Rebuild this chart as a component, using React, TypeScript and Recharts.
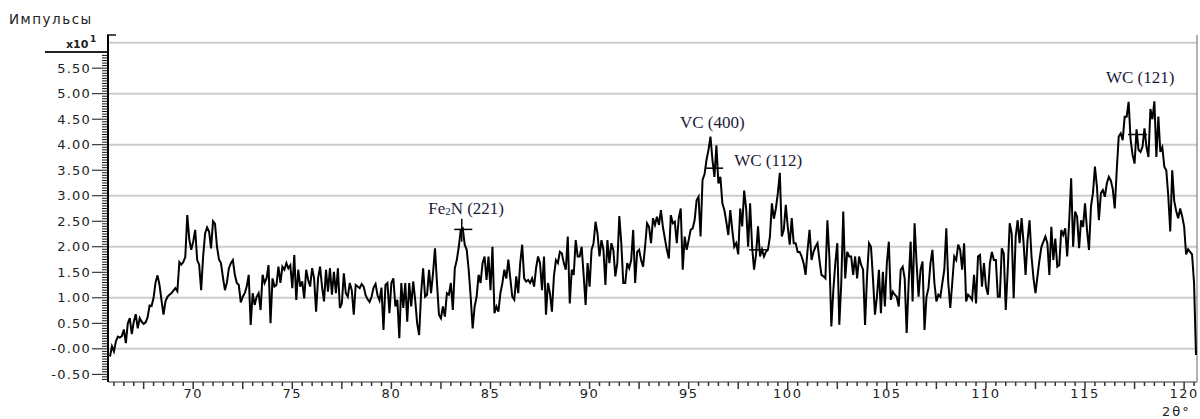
import { LineChart, Line, XAxis, YAxis, ReferenceLine, ReferenceDot } from "recharts";

// intensity (x10 counts), sampled every 0.1 deg 2-theta; each segment has its own start angle
const seg1 = [-0.15, 0.05, -0.05, 0.15, 0.24, 0.22, 0.25, 0.38, 0.11, 0.5, 0.6, 0.29, 0.53, 0.68, 0.4, 0.6, 0.53, 0.49, 0.52, 0.62, 0.85, 0.84, 1.0, 1.3, 1.44, 1.25, 0.95, 0.67, 0.93, 1.02, 1.06, 1.09, 1.14, 1.19, 1.13, 1.7, 1.65, 1.7, 1.8, 2.62, 2.15, 1.94, 2.1, 2.33, 1.74, 1.65, 1.15, 1.81, 2.26, 2.38, 2.3, 1.97, 2.5, 2.45, 2.0, 1.75, 1.68, 1.4, 1.15, 1.3, 1.58, 1.68, 1.74];
const seg2 = [1.45, 1.29, 1.25, 0.91, 1.02, 1.09, 1.22, 1.45, 0.47, 1.09, 0.86, 1.02, 1.09, 0.76, 1.45, 1.29, 1.38, 1.64, 0.5, 1.38, 1.22, 1.25, 1.61, 1.29, 1.61, 1.55, 1.68, 1.58, 1.64, 1.19, 1.84, 0.96, 1.55, 1.22, 1.32, 0.99, 1.55, 1.35, 1.22, 1.58, 1.38, 0.73, 1.38, 1.61, 1.22, 0.93, 1.55, 1.12, 1.58, 1.06, 1.51, 1.09, 1.58, 0.8, 0.89, 1.48, 1.09, 1.02, 1.29, 1.15, 0.67, 1.25, 1.22, 1.19];
const seg3 = [1.27, 1.22, 1.05, 0.97, 0.92, 1.02, 1.2, 1.27, 1.05, 0.95, 1.2, 0.37, 1.25, 1.29, 0.7, 1.29, 1.38, 0.83, 0.96, 0.21, 1.29, 0.8, 1.29, 0.53, 1.29, 0.83, 1.32, 0.96, 0.5, 0.27, 1.09, 1.58, 1.02, 1.06, 1.55, 1.09, 1.48, 1.97, 1.29, 0.67, 0.6, 0.83, 0.63, 1.09, 1.06, 1.29, 0.76, 1.58, 1.74, 2.0, 2.33, 2.36, 2.04, 1.94, 1.55, 1.02, 0.4, 0.83, 1.02, 1.45, 1.29, 1.68, 1.81];
const seg4 = [1.35, 1.81, 1.15, 2.0, 0.7, 0.83, 0.73, 1.09, 1.29, 1.55, 1.38, 1.75, 1.38, 1.02, 0.96, 1.42, 1.09, 1.68, 2.04, 1.38, 1.32, 1.35, 1.29, 1.38, 1.22, 1.58, 1.81, 1.68, 1.15, 1.81, 0.67, 1.29, 1.09, 0.73, 1.42, 1.74, 1.68, 1.9, 1.87, 1.68, 1.55, 2.2, 0.89, 1.55, 1.45, 2.13, 1.81, 1.81, 2.0, 1.45, 0.86, 1.68, 1.22, 1.94, 2.07, 2.49, 2.26, 1.81, 2.13, 1.94, 1.25, 2.13, 1.68];
const seg5 = [2.07, 1.94, 1.42, 1.68, 2.6, 2.07, 1.29, 1.29, 1.68, 1.58, 1.74, 2.33, 1.29, 1.9, 1.94, 1.74, 1.61, 2.0, 2.46, 2.39, 2.07, 2.56, 2.43, 2.59, 2.43, 2.72, 2.39, 2.16, 1.94, 1.77, 2.62, 2.46, 2.49, 2.07, 2.56, 2.75, 1.55, 2.2, 1.94, 2.13, 2.33, 2.36, 2.52, 2.91, 2.98, 2.2, 3.31, 3.42, 3.7, 3.9, 4.16, 3.7, 3.37, 3.99, 3.24, 3.37, 2.85, 2.72, 2.49, 2.23, 2.72, 2.33, 2.0];
const seg6 = [2.07, 1.85, 2.75, 2.4, 3.1, 2.75, 2.0, 2.85, 2.0, 1.55, 1.85, 2.4, 1.81, 1.95, 1.81, 1.9, 1.94, 2.2, 2.85, 2.55, 2.75, 3.05, 3.45, 2.2, 2.33, 2.82, 2.39, 2.04, 2.56, 2.07, 2.07, 1.9, 1.9, 1.81, 1.68, 1.45, 1.94, 2.33, 1.74, 1.9, 2.0, 2.07, 1.74, 1.45, 1.42, 1.38, 2.52, 1.8, 0.44, 1.15, 1.68, 2.07, 0.47, 1.29, 2.69, 1.38, 1.9, 1.81, 1.81, 1.45, 1.81, 1.38, 1.81];
const seg7 = [1.65, 1.55, 0.47, 1.42, 2.07, 2.0, 1.38, 0.67, 1.02, 1.55, 0.7, 1.51, 0.83, 1.68, 2.1, 0.96, 1.12, 1.06, 1.02, 0.83, 1.55, 1.61, 1.38, 0.31, 1.29, 2.1, 0.93, 2.46, 1.68, 1.02, 1.55, 1.71, 0.37, 1.02, 1.19, 1.68, 1.94, 1.29, 0.93, 1.06, 1.02, 1.29, 1.55, 2.36, 1.29, 0.8, 1.29, 1.81, 1.74, 2.04, 1.94, 1.55, 2.07, 0.93, 1.06, 1.02, 0.96, 1.45, 0.89, 1.81, 1.84, 1.22, 1.68];
const seg8 = [1.22, 1.06, 1.68, 1.9, 1.74, 1.74, 1.02, 1.02, 1.97, 1.87, 0.76, 1.55, 2.46, 2.26, 0.99, 2.2, 2.52, 2.07, 2.56, 2.07, 1.45, 2.13, 2.52, 1.81, 1.38, 1.09, 1.42, 1.74, 2.0, 2.1, 2.2, 2.07, 1.45, 2.39, 1.74, 2.16, 1.61, 1.64, 2.33, 2.23, 2.36, 1.81, 2.49, 3.34, 2.0, 2.69, 2.59, 1.97, 2.52, 2.39, 2.85, 2.33, 1.94, 2.79, 3.05, 3.57, 3.18, 2.52, 3.05, 3.11, 2.98, 3.24, 3.37];
const seg9 = [3.3, 3.13, 2.75, 3.5, 4.16, 4.22, 4.09, 4.55, 4.55, 4.84, 4.1, 3.8, 3.63, 4.3, 3.9, 3.86, 3.96, 4.32, 3.96, 3.76, 4.7, 4.5, 4.85, 3.76, 4.55, 3.86, 3.95, 3.57, 3.5, 3.0, 2.3, 3.5, 2.9, 2.7, 2.56, 2.75, 2.6, 2.4, 1.85, 1.95, 1.9, 1.85, 1.3, -0.12];

const segStarts = [65.8, 72.1, 78.5, 84.8, 91.1, 97.4, 103.7, 110.0, 116.3];
const segments = [seg1, seg2, seg3, seg4, seg5, seg6, seg7, seg8, seg9];

const yMajor = [-0.5, 0, 0.5, 1, 1.5, 2, 2.5, 3, 3.5, 4, 4.5, 5, 5.5];
const yLabels = ["-0.50", "-0.00", "0.50", "1.00", "1.50", "2.00", "2.50", "3.00", "3.50", "4.00", "4.50", "5.00", "5.50"];
const xLabels = [70, 75, 80, 85, 90, 95, 100, 105, 110, 115, 120];
const gridValues = [0, 1, 2, 3, 4, 5, 6];

const peakLabels = [
  { x: 83.77, y: 2.64, pre: "Fe", sub: "2", post: "N (221)" },
  { x: 96.19, y: 4.32, pre: "VC (400)", sub: "", post: "" },
  { x: 99.01, y: 3.58, pre: "WC (112)", sub: "", post: "" },
  { x: 117.78, y: 5.21, pre: "WC (121)", sub: "", post: "" },
];
const peakMarks = [
  { x1: 83.17, x2: 84.08, y: 2.34 },
  { x1: 95.83, x2: 96.74, y: 3.54 },
  { x1: 98.05, x2: 98.96, y: 1.94 },
  { x1: 117.17, x2: 118.13, y: 4.2 },
];

const X_DOMAIN: [number, number] = [65.7, 120.65];
const Y_DOMAIN: [number, number] = [-0.65, 6.15];

const data = segments.flatMap((s, j) =>
  s.map((v, i) => ({ x: Math.round((segStarts[j] + i * 0.1) * 100) / 100, y: v }))
);

const xTicks: number[] = [];
for (let k = 132; k <= 241; k++) xTicks.push(k / 2);
const yTicks: number[] = [];
for (let k = -12; k <= 115; k++) yTicks.push(k / 20);

const axisFont = "DejaVu Sans, sans-serif";

function YTick(props: any) {
  const { x, y, payload } = props;
  const idx = yMajor.findIndex((m) => Math.abs(m - payload.value) < 1e-6);
  const major = idx >= 0;
  const len = major ? 16 : 6;
  return (
    <g>
      <line x1={x - len} x2={x} y1={y} y2={y} stroke="#111" strokeWidth={1} />
      {major && (
        <text x={x - 17} y={y} dy={4.5} textAnchor="end" fontFamily={axisFont} fontSize={13} letterSpacing={1.2} fill="#222">
          {yLabels[idx]}
        </text>
      )}
    </g>
  );
}

function XTick(props: any) {
  const { x, y, payload } = props;
  const v = payload.value;
  const half = Math.round(v * 2);
  const mid = half % 5 === 0;
  const label = xLabels.includes(v);
  return (
    <g>
      <line x1={x} x2={x} y1={y} y2={y + (mid ? 7 : 4)} stroke="#333" strokeWidth={1.5} />
      {label && (
        <text x={x} y={y + 16} textAnchor="middle" fontFamily={axisFont} fontSize={13} letterSpacing={1.5} fill="#222">
          {v}
        </text>
      )}
    </g>
  );
}

function PeakText(p: any) {
  const l = p.item;
  return (
    <text x={p.cx} y={p.cy} textAnchor="middle" fontFamily="Liberation Serif, serif" fontSize={17} fill="#1b1b3a">
      {l.pre}
      {l.sub && (
        <tspan fontSize={11} dy={1}>
          {l.sub}
        </tspan>
      )}
      {l.post && <tspan dy={l.sub ? -1 : 0}>{l.post}</tspan>}
    </text>
  );
}

export default function App() {
  return (
    <div style={{ position: "absolute", left: 0, top: 0, width: 1200, height: 419, background: "#fff" }}>
      <LineChart width={1200} height={419} data={data} margin={{ top: 35, right: 3, bottom: 0, left: 8 }}>
        {gridValues.map((g) => (
          <ReferenceLine key={"g" + g} y={g} stroke="#cccccc" strokeWidth={2} />
        ))}
        <ReferenceLine x={X_DOMAIN[1]} stroke="#666" strokeWidth={1} />
        <XAxis
          type="number"
          dataKey="x"
          domain={X_DOMAIN}
          ticks={xTicks}
          interval={0}
          tick={(p: any) => <XTick {...p} />}
          tickLine={false}
          tickSize={0}
          tickMargin={0}
          axisLine={{ stroke: "#999", strokeWidth: 2 }}
          height={37}
          allowDataOverflow
        />
        <YAxis
          type="number"
          domain={Y_DOMAIN}
          ticks={yTicks}
          interval={0}
          tick={(p: any) => <YTick {...p} />}
          tickLine={false}
          tickSize={0}
          tickMargin={0}
          axisLine={{ stroke: "#000", strokeWidth: 2 }}
          width={100}
          allowDataOverflow
        />
        <Line type="linear" dataKey="y" stroke="#000" strokeWidth={2} dot={false} isAnimationActive={false} />
        {peakMarks.map((m, i) => (
          <ReferenceLine
            key={"m" + i}
            segment={[{ x: m.x1, y: m.y }, { x: m.x2, y: m.y }]}
            stroke="#000"
            strokeWidth={1.5}
          />
        ))}
        <ReferenceLine segment={[{ x: 83.55, y: 2.1 }, { x: 83.55, y: 2.55 }]} stroke="#000" strokeWidth={1.5} />
        {peakLabels.map((l, i) => (
          <ReferenceDot key={"l" + i} x={l.x} y={l.y} r={0} shape={(p: any) => <PeakText {...p} item={l} />} />
        ))}
      </LineChart>
      <svg width={1200} height={419} style={{ position: "absolute", left: 0, top: 0, pointerEvents: "none" }}>
        <text x={9} y={24} fontFamily={axisFont} fontSize={13.5} letterSpacing={1.5} fill="#222">
          Импульсы
        </text>
        <text x={66} y={48} fontFamily={axisFont} fontSize={11} fontWeight="bold" fill="#222">
          x10
        </text>
        <text x={90} y={42} fontFamily={axisFont} fontSize={9} fontWeight="bold" fill="#222">
          1
        </text>
        <line x1={45} x2={107} y1={52} y2={52} stroke="#222" strokeWidth={2} />
        <line x1={107} x2={116} y1={35} y2={35} stroke="#111" strokeWidth={1.5} />
        <text x={1162} y={416} fontFamily={axisFont} fontSize={13} letterSpacing={2} fill="#222">
          2θ°
        </text>
      </svg>
    </div>
  );
}
